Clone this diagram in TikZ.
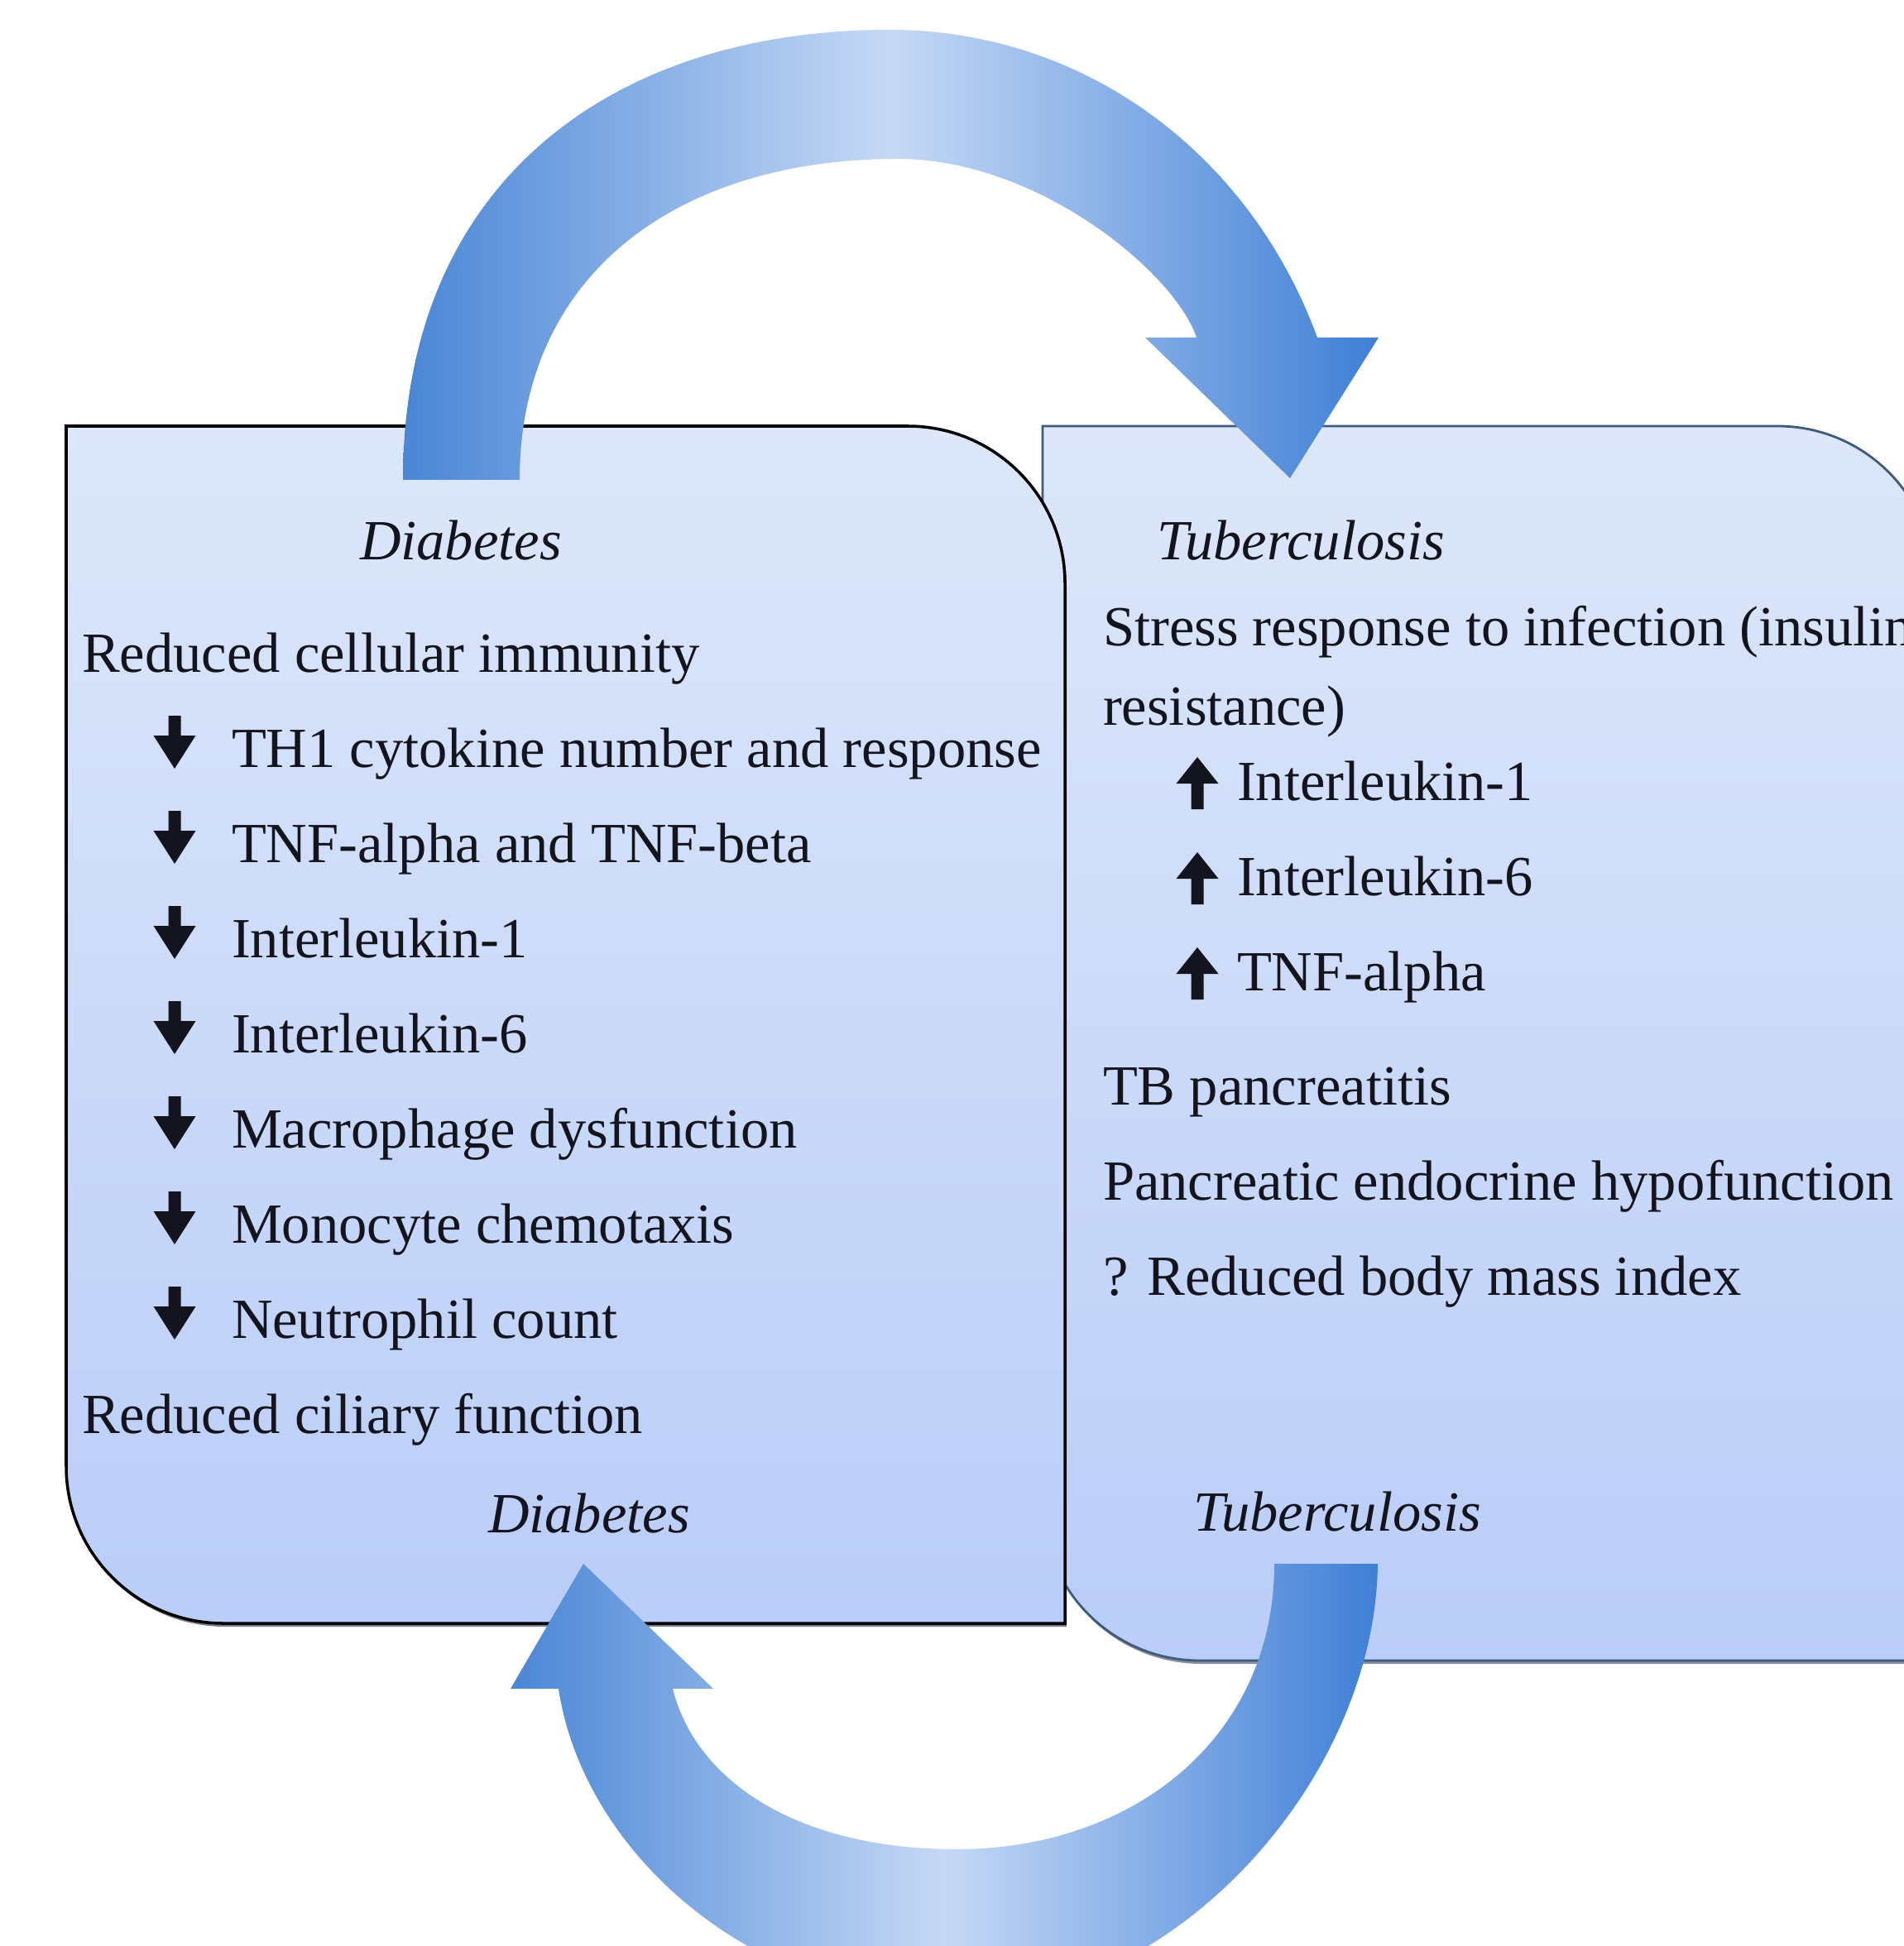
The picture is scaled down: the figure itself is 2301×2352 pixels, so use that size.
\documentclass[tikz,border=0pt]{standalone}
\usepackage{fontspec}
\setmainfont{Liberation Serif}
\definecolor{boxtop}{HTML}{DDE7F9}
\definecolor{boxbot}{HTML}{BACDF8}
\definecolor{arrowedge}{HTML}{4A86D6}
\definecolor{arrowedgeb}{HTML}{3F7FD6}
\definecolor{arrowmid}{HTML}{C6D9F6}
\definecolor{rboxline}{HTML}{3E5A7E}
\definecolor{shadowcol}{HTML}{3A4454}
\definecolor{txtcol}{HTML}{14141E}
\begin{document}
\begin{tikzpicture}[x=0.01cm,y=-0.01cm,
  txt/.style={anchor=base west,inner sep=0pt,outer sep=0pt,text=txtcol,font=\fontsize{19.5}{23}\selectfont},
  ttl/.style={txt,font=\fontsize{19.5}{23}\selectfont\itshape},
  boxfill/.style={top color=boxtop,bottom color=boxbot},
  bigarrow/.style={left color=arrowedge,right color=arrowedgeb,middle color=arrowmid},
  pics/dnarr/.style={code={\fill[txtcol] (-7.5,-62) -- (7.5,-62) -- (7.5,-38) -- (25.5,-38) -- (0,2) -- (-25.5,-38) -- (-7.5,-38) -- cycle;}},
  pics/uparr/.style={code={\fill[txtcol] (-7.5,11) -- (7.5,11) -- (7.5,-20) -- (25.5,-20) -- (0,-52) -- (-25.5,-20) -- (-7.5,-20) -- cycle;}}
]
\useasboundingbox (0,0) rectangle (2301,2352);
\fill[white] (0,0) rectangle (2301,2352);
\clip (0,0) rectangle (2301,2352);

% right box (Tuberculosis)
\begin{scope}[shift={(2,4)}]
\fill[shadowcol!60] (1260,515) -- (2148,515) .. controls (2253,515) and (2338,600) .. (2338,705) -- (2338,2007) -- (1450,2007) .. controls (1345,2007) and (1260,1922) .. (1260,1817) -- cycle;
\end{scope}
\draw[boxfill,draw=rboxline,line width=0.8pt] (1260,515) -- (2148,515) .. controls (2253,515) and (2338,600) .. (2338,705) -- (2338,2007) -- (1450,2007) .. controls (1345,2007) and (1260,1922) .. (1260,1817) -- cycle;

% left box (Diabetes)
\begin{scope}[shift={(2,4)}]
\fill[shadowcol!70] (80,515) -- (1097,515) .. controls (1202,515) and (1287,600) .. (1287,705) -- (1287,1962) -- (270,1962) .. controls (165,1962) and (80,1877) .. (80,1772) -- cycle;
\end{scope}
\draw[boxfill,draw=black,line width=1pt] (80,515) -- (1097,515) .. controls (1202,515) and (1287,600) .. (1287,705) -- (1287,1962) -- (270,1962) .. controls (165,1962) and (80,1877) .. (80,1772) -- cycle;

% top curved arrow: Diabetes -> Tuberculosis
\path[bigarrow] (487,580) .. controls (487,220) and (740,36) .. (1075,36)
  .. controls (1310,36) and (1510,185) .. (1592,408) -- (1666,408) -- (1559,578) -- (1384,408) -- (1446,408)
  .. controls (1420,330) and (1255,192) .. (1085,192)
  .. controls (820,192) and (628,330) .. (628,580) -- cycle;

% bottom curved arrow: Tuberculosis -> Diabetes
\path[bigarrow] (1540,1890) -- (1665,1890) .. controls (1662,2150) and (1420,2420) .. (1160,2420)
  .. controls (910,2420) and (705,2240) .. (675,2041) -- (617,2041) -- (705,1890) -- (862,2041) -- (813,2041)
  .. controls (840,2150) and (960,2235) .. (1156,2235)
  .. controls (1370,2235) and (1540,2100) .. (1540,1890) -- cycle;

% left box text
\node[ttl] (dtitle) at (435,676) {Diabetes};
\node[txt] (d1) at (99,812) {Reduced cellular immunity};
\pic at (211,927) {dnarr};
\node[txt] (d2) at (280,927) {TH1 cytokine number and response};
\pic at (211,1042) {dnarr};
\node[txt] (d3) at (280,1042) {TNF-alpha and TNF-beta};
\pic at (211,1157) {dnarr};
\node[txt] (d4) at (280,1157) {Interleukin-1};
\pic at (211,1272) {dnarr};
\node[txt] (d5) at (280,1272) {Interleukin-6};
\pic at (211,1387) {dnarr};
\node[txt] (d6) at (280,1387) {Macrophage dysfunction};
\pic at (211,1502) {dnarr};
\node[txt] (d7) at (280,1502) {Monocyte chemotaxis};
\pic at (211,1617) {dnarr};
\node[txt] (d8) at (280,1617) {Neutrophil count};
\node[txt] (d9) at (99,1732) {Reduced ciliary function};
\node[ttl] (dfoot) at (590,1852) {Diabetes};

% right box text
\node[ttl] (ttitle) at (1398,676) {Tuberculosis};
\node[txt] (t1) at (1333,780) {Stress response to infection (insulin};
\node[txt] (t2) at (1333,876) {resistance)};
\pic at (1447,967) {uparr};
\node[txt] (t3) at (1495,967) {Interleukin-1};
\pic at (1447,1082) {uparr};
\node[txt] (t4) at (1495,1082) {Interleukin-6};
\pic at (1447,1197) {uparr};
\node[txt] (t5) at (1495,1197) {TNF-alpha};
\node[txt] (t6) at (1333,1335) {TB pancreatitis};
\node[txt] (t7) at (1333,1450) {Pancreatic endocrine hypofunction};
\node[txt] (t8) at (1333,1565) {? Reduced body mass index};
\node[ttl] (tfoot) at (1442,1850) {Tuberculosis};
\end{tikzpicture}
\end{document}
